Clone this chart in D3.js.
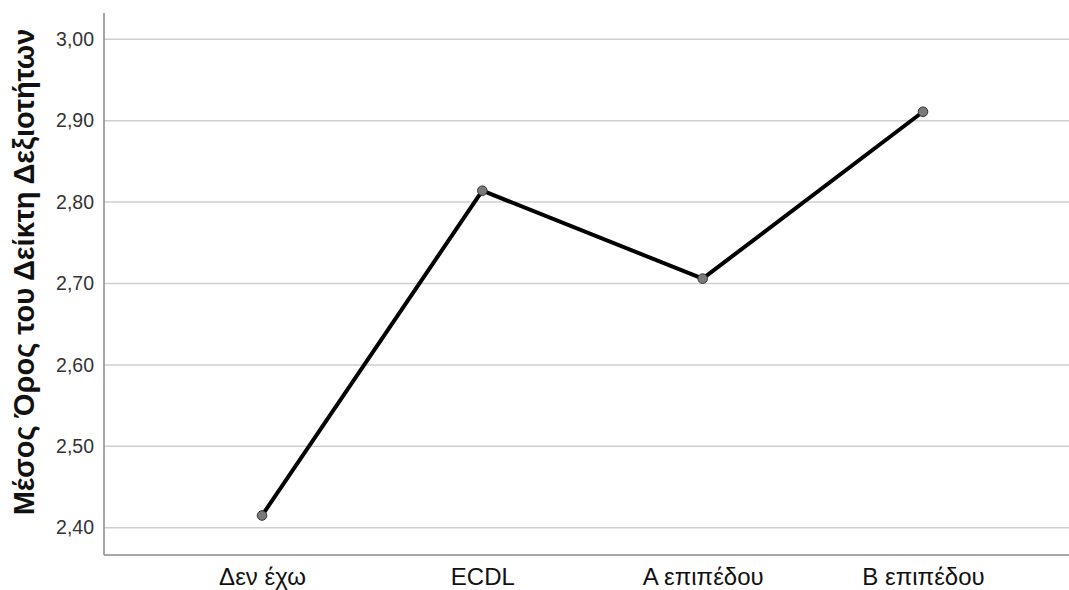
<!DOCTYPE html>
<html><head><meta charset="utf-8">
<script src="https://cdn.jsdelivr.net/npm/d3@7"></script>
<style>body{margin:0;background:#fff}svg{display:block}</style>
</head><body>
<svg id="c" width="1069" height="590"></svg>
<script>
const categories = ["Δεν έχω", "ECDL", "Α επιπέδου", "Β επιπέδου"];
const values = [2.415, 2.814, 2.706, 2.911];
const yTicks = [2.40, 2.50, 2.60, 2.70, 2.80, 2.90, 3.00];
const yTitle = "Μέσος Όρος του Δείκτη Δεξιοτήτων";

(function () {
const svg = d3.select("#c");
const mLeft = 104, mRight = 1069, mTop = 13, mBottom = 555;
const x = d3.scalePoint().domain(categories).range([262, 923]);
const y = d3.scaleLinear().domain([2.3665, 3.0323]).range([mBottom, mTop]);
const font = "'Liberation Sans', Arial, sans-serif";

// gridlines
svg.append("g").selectAll("line").data(yTicks).join("line")
  .attr("x1", mLeft).attr("x2", mRight)
  .attr("y1", d => y(d)).attr("y2", d => y(d))
  .attr("stroke", "#cfcfcf").attr("stroke-width", 1.5);

// y axis
const ya = svg.append("g").attr("transform", `translate(${mLeft},0)`)
  .call(d3.axisLeft(y).tickValues(yTicks).tickSize(0).tickPadding(10)
    .tickFormat(d => d3.format(".2f")(d).replace(".", ",")));
ya.select(".domain").remove();
ya.selectAll("text").style("font-family", font)
  .style("font-size", "19.5px").attr("fill", "#333");

// x axis
const xa = svg.append("g").attr("transform", `translate(0,${mBottom})`)
  .call(d3.axisBottom(x).tickSize(0).tickPadding(13));
xa.select(".domain").remove();
xa.selectAll("text").style("font-family", font)
  .style("font-size", "24px").attr("fill", "#111");

// axis lines
svg.append("line").attr("x1", mLeft).attr("x2", mLeft).attr("y1", mTop).attr("y2", mBottom)
  .attr("stroke", "#8a8a8a").attr("stroke-width", 1.5);
svg.append("line").attr("x1", mLeft).attr("x2", mRight).attr("y1", mBottom).attr("y2", mBottom)
  .attr("stroke", "#8a8a8a").attr("stroke-width", 1.5);

// y title
svg.append("text").attr("transform", `translate(34,${(mTop+mBottom)/2 - 12}) rotate(-90)`)
  .attr("text-anchor", "middle").style("font-family", font)
  .style("font-weight", "bold").style("font-size", "29px").attr("fill", "#111").text(yTitle);

const data = categories.map((c, i) => ({c, v: values[i]}));
svg.append("path").datum(data)
  .attr("d", d3.line().x(d => x(d.c)).y(d => y(d.v)))
  .attr("fill", "none").attr("stroke", "#000").attr("stroke-width", 4)
  .attr("stroke-linejoin", "round");
svg.append("g").selectAll("circle").data(data).join("circle")
  .attr("cx", d => x(d.c)).attr("cy", d => y(d.v)).attr("r", 4.8)
  .attr("fill", "#7a7a7a").attr("stroke", "#333").attr("stroke-width", 1);
})();
</script>
</body></html>
